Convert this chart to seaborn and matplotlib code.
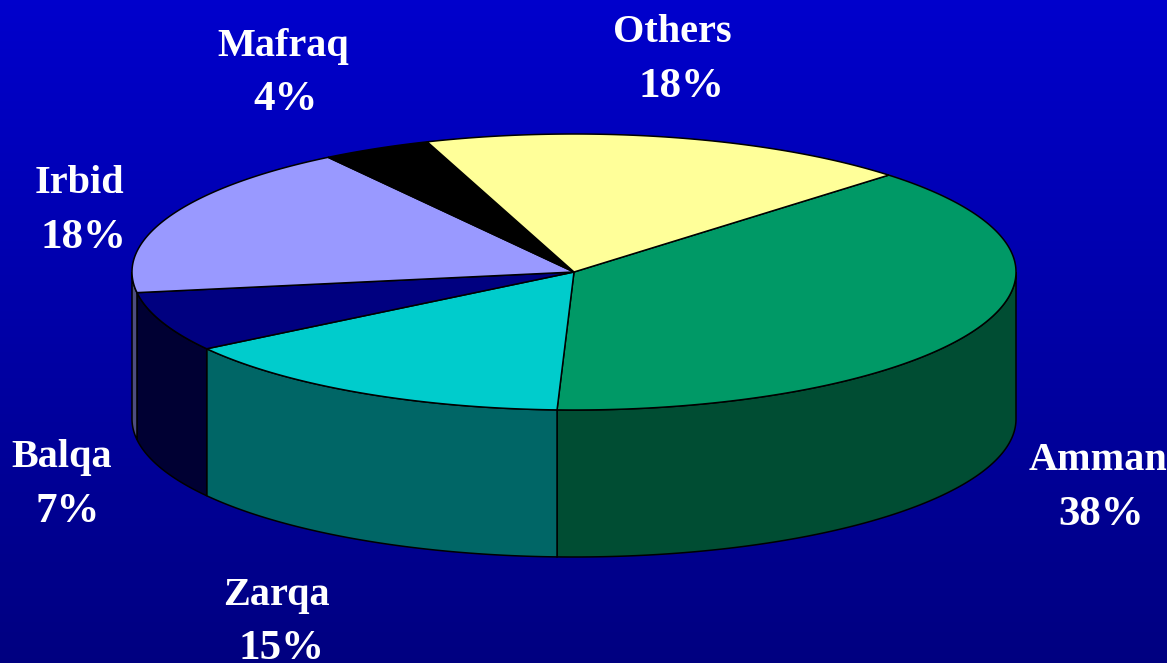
import numpy as np
import seaborn as sns
import matplotlib.pyplot as plt

# shares, clockwise from the Others/Amman edge
names = ["Amman", "Zarqa", "Balqa", "Irbid", "Mafraq", "Others"]
shares = [38, 15, 7, 18, 4, 18]

top_colors = ["#009966", "#00CCCC", "#000080", "#9999FF", "#000000", "#FFFF99"]
wall_colors = ["#004D33", "#006666", "#000033", "#4D4D80", "#000000", "#808050"]

# label anchors in pixels: name x, name baseline, percent x, percent baseline
label_pos = {
    "Amman": (1098, 470, 1101, 525),
    "Zarqa": (276, 605, 281, 659),
    "Balqa": (62, 467, 68, 522),
    "Irbid": (79, 193, 83, 248),
    "Mafraq": (283, 56, 286, 110),
    "Others": (672, 42, 681, 97),
}

W, H = 1167, 663
CX, CY = 574, 272
RX, RY = 442, 138
DEPTH = 147
START = 44.6

sns.set_theme(style="white")
plt.rcParams['font.family'] = ['Liberation Serif', 'DejaVu Serif']

fig = plt.figure(figsize=(W / 100, H / 100), dpi=100)

# background gradient
ax_bg = fig.add_axes([0, 0, 1, 1])
grad = np.linspace(0, 1, 256).reshape(-1, 1)
cmap = sns.blend_palette(["#0000CC", "#000080"], as_cmap=True)
sns.heatmap(grad, ax=ax_bg, cmap=cmap, cbar=False, xticklabels=False, yticklabels=False)

ax = fig.add_axes([0, 0, 1, 1])
ax.patch.set_alpha(0)
ax.set_xlim(0, W)
ax.set_ylim(H, 0)
ax.axis('off')


def arc(a0, a1, dy=0):
    t = np.radians(np.linspace(a0, a1, 200))
    return CX + RX * np.cos(t), CY - RY * np.sin(t) + dy


angle = START
for name, share, top, wall in zip(names, shares, top_colors, wall_colors):
    end = angle - share * 3.6

    # side wall only where the slice crosses the front half (180..360 deg)
    a0 = (angle + 360) % 360 if angle < 0 else angle
    a1 = a0 - share * 3.6
    for lo, hi in [(180, 360), (-180, 0)]:
        w_hi, w_lo = min(a0, hi), max(a1, lo)
        if w_hi > w_lo:
            x0, y0 = arc(w_hi, w_lo)
            x1, y1 = arc(w_lo, w_hi, DEPTH)
            ax.fill(np.r_[x0, x1], np.r_[y0, y1], facecolor=wall,
                    edgecolor='black', linewidth=1.1, zorder=2)

    x, y = arc(angle, end)
    ax.fill(np.r_[CX, x], np.r_[CY, y], facecolor=top,
            edgecolor='black', linewidth=1.1, zorder=3)

    nx, ny, px, py = label_pos[name]
    ax.text(nx, ny, name, color='white', fontsize=29, fontweight='bold',
            ha='center', va='baseline', zorder=4)
    ax.text(px, py, f"{share}%", color='white', fontsize=31, fontweight='bold',
            ha='center', va='baseline', zorder=4)
    angle = end

fig.savefig("out.png", dpi=100)
